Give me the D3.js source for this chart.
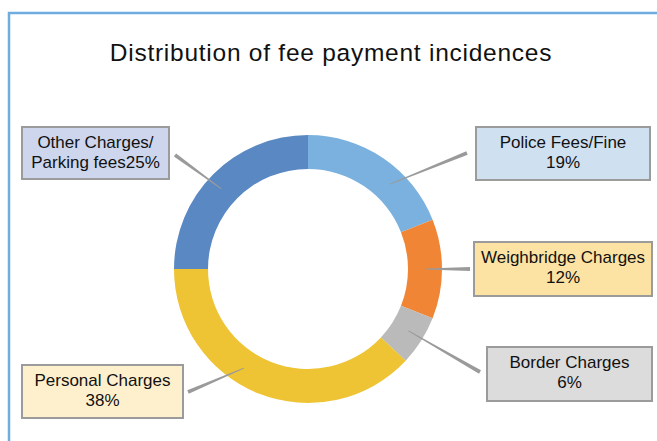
<!DOCTYPE html>
<html>
<head>
<meta charset="utf-8">
<script src="https://cdn.jsdelivr.net/npm/d3@7"></script>
<style>
  body { margin: 0; background: #fff; }
  svg { display: block; font-family: "Liberation Sans", Arial, sans-serif; }
</style>
</head>
<body>
<svg width="657" height="441"></svg>
<script>
// chart data
var categories = ["Police Fees/Fine", "Weighbridge Charges", "Border Charges", "Personal Charges", "Other Charges/Parking fees"];
var values = [19, 12, 6, 38, 25];
var labelLines = [
  ["Police Fees/Fine", "19%"],
  ["Weighbridge Charges", "12%"],
  ["Border Charges", "6%"],
  ["Personal Charges", "38%"],
  ["Other Charges/", "Parking fees25%"]
];
var sliceColors = ["#7ab1de", "#f08536", "#b9bab9", "#eec334", "#5a88c3"];
var boxColors = ["#cfe0f1", "#fde3a3", "#dcdcdc", "#fff0cd", "#cdd6ec"];

// label box layout (x, y, w, h) and where the leader line meets the box
var boxes = [
  {x: 476, y: 127, w: 174, h: 53, lx: 467, ly: 153},
  {x: 474, y: 242, w: 178, h: 54, lx: 470, ly: 269},
  {x: 487, y: 347, w: 165, h: 54, lx: 480, ly: 372},
  {x: 22,  y: 365, w: 161, h: 53, lx: 188, ly: 392},
  {x: 22,  y: 127, w: 147, h: 52, lx: 175, ly: 155}
];

var cx = 308, cy = 269, outerR = 134, innerR = 100, leadR = 118;

var svg = d3.select("svg");

// frame
svg.append("path")
    .attr("d", "M9,441 V13 H657")
    .style("fill", "none")
    .style("stroke", "#6fade0")
    .style("stroke-width", 2.5);

// title
svg.append("text")
    .attr("x", 331)
    .attr("y", 61)
    .attr("text-anchor", "middle")
    .style("font-size", "24.5px")
    .style("letter-spacing", "0.75px")
    .style("fill", "#111")
    .text("Distribution of fee payment incidences");

var pie = d3.pie().sort(null).value(function(d) { return d; });
var arc = d3.arc().innerRadius(innerR).outerRadius(outerR);

var arcs = pie(values);

var g = svg.append("g")
    .attr("transform", "translate(" + cx + "," + cy + ")");

g.selectAll("path.slice")
    .data(arcs)
  .enter().append("path")
    .attr("class", "slice")
    .attr("d", arc)
    .style("fill", function(d, i) { return sliceColors[i]; });

// tapered leader lines: start halfway between slice middle and label direction
arcs.forEach(function(d, i) {
  var b = boxes[i];
  var mid = (d.startAngle + d.endAngle) / 2;
  var dir = Math.atan2(b.lx - cx, -(b.ly - cy));
  if (dir < 0) dir += 2 * Math.PI;
  dir = Math.max(d.startAngle, Math.min(d.endAngle, dir));
  var a = (mid + dir) / 2;
  var x0 = cx + leadR * Math.sin(a), y0 = cy - leadR * Math.cos(a);
  var dx = b.lx - x0, dy = b.ly - y0;
  var len = Math.sqrt(dx * dx + dy * dy);
  var nx = -dy / len, ny = dx / len;
  var w0 = 0.4, w1 = 1.9;
  var pts = [
    [x0 + nx * w0, y0 + ny * w0],
    [b.lx + nx * w1, b.ly + ny * w1],
    [b.lx - nx * w1, b.ly - ny * w1],
    [x0 - nx * w0, y0 - ny * w0]
  ];
  svg.append("polygon")
      .attr("points", pts.map(function(q) { return q.join(","); }).join(" "))
      .style("fill", "#9a9a9a");
});

// label boxes
var labels = svg.selectAll("g.label")
    .data(categories)
  .enter().append("g")
    .attr("class", "label");

labels.append("rect")
    .attr("x", function(d, i) { return boxes[i].x; })
    .attr("y", function(d, i) { return boxes[i].y; })
    .attr("width", function(d, i) { return boxes[i].w; })
    .attr("height", function(d, i) { return boxes[i].h; })
    .style("fill", function(d, i) { return boxColors[i]; })
    .style("stroke", "#9b9b9b")
    .style("stroke-width", 2);

labels.each(function(d, i) {
  var b = boxes[i];
  var t = d3.select(this).append("text")
      .attr("text-anchor", "middle")
      .style("font-size", "17px")
      .style("fill", "#111");
  labelLines[i].forEach(function(line, k) {
    t.append("tspan")
        .attr("x", b.x + b.w / 2)
        .attr("y", b.y + 21 + k * 20)
        .text(line);
  });
});
</script>
</body>
</html>
